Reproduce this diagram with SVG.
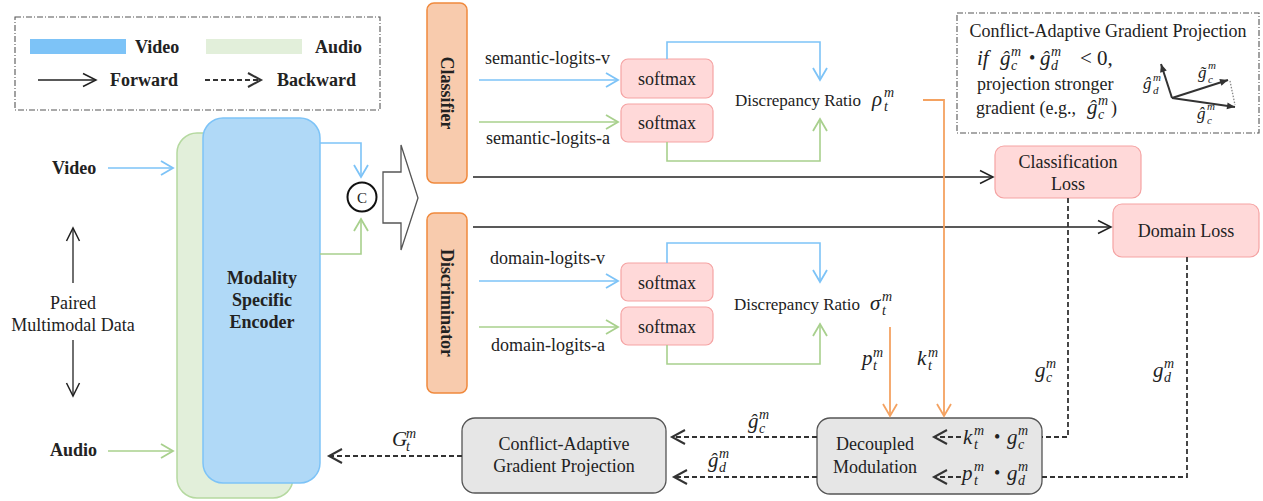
<svg xmlns="http://www.w3.org/2000/svg" width="1263" height="501" viewBox="0 0 1263 501" font-family="Liberation Serif, Times New Roman, serif">
  <style>
    text { fill: #222; }
    .t18 { font-size: 18px; }
    .t17 { font-size: 17px; }
    .b { font-weight: bold; }
    .mid { text-anchor: middle; }
    .base { font-size: 21px; font-style: italic; }
    .scr { font-size: 14px; font-style: italic; }
    .sbase { font-size: 17px; font-style: italic; }
    .sscr { font-size: 11px; font-style: italic; }
    .blue { stroke: #7DC3F7; stroke-width: 1.6; fill: none; }
    .green { stroke: #A8D08D; stroke-width: 1.6; fill: none; }
    .orange { stroke: #F4A261; stroke-width: 1.8; fill: none; }
    .fwd { stroke: #222; stroke-width: 1.3; fill: none; }
    .bwd { stroke: #333; stroke-width: 1.8; fill: none; stroke-dasharray: 5 3; }
    .pink { fill: #FFD9D9; stroke: #F5A3A3; stroke-width: 1.2; }
    .gray { fill: #E6E6E6; stroke: #555; stroke-width: 1.3; }
    .orbox { fill: #F8CBAD; stroke: #F0893C; stroke-width: 1.5; }
    .frame { fill: none; stroke: #555; stroke-width: 1.1; stroke-dasharray: 6 2 1 2; }
    .vec { stroke: #333; stroke-width: 2; fill: none; }
  </style>
  <defs>
    <marker id="a-blue" viewBox="-15 -9 18 18" markerWidth="18" markerHeight="18" refX="0" refY="0" orient="auto" markerUnits="userSpaceOnUse" overflow="visible">
      <path d="M-12,-7 L0,0 L-12,7" fill="none" stroke="#7DC3F7" stroke-width="1.8"/>
    </marker>
    <marker id="a-green" viewBox="-15 -9 18 18" markerWidth="18" markerHeight="18" refX="0" refY="0" orient="auto" markerUnits="userSpaceOnUse" overflow="visible">
      <path d="M-12,-7 L0,0 L-12,7" fill="none" stroke="#A8D08D" stroke-width="1.8"/>
    </marker>
    <marker id="a-orange" viewBox="-15 -9 18 18" markerWidth="18" markerHeight="18" refX="0" refY="0" orient="auto" markerUnits="userSpaceOnUse" overflow="visible">
      <path d="M-12,-7 L0,0 L-12,7" fill="none" stroke="#F4A261" stroke-width="1.8"/>
    </marker>
    <marker id="a-black" viewBox="-15 -9 18 18" markerWidth="18" markerHeight="18" refX="0" refY="0" orient="auto" markerUnits="userSpaceOnUse" overflow="visible">
      <path d="M-13,-6.5 L0,0 L-13,6.5" fill="none" stroke="#222" stroke-width="1.5"/>
    </marker>
    <marker id="a-dash" viewBox="-15 -9 18 18" markerWidth="18" markerHeight="18" refX="0" refY="0" orient="auto" markerUnits="userSpaceOnUse" overflow="visible">
      <path d="M-13,-7 L0,0 L-13,7" fill="none" stroke="#333" stroke-width="2"/>
    </marker>
    <marker id="a-vec" viewBox="-10 -5 12 10" markerWidth="12" markerHeight="10" refX="0" refY="0" orient="auto" markerUnits="userSpaceOnUse" overflow="visible">
      <path d="M-8,-3.5 L0,0 L-8,3.5 Z" fill="#333"/>
    </marker>
  </defs>

  <!-- legend -->
  <g id="legend">
    <rect class="frame" x="15" y="17" width="365" height="93"/>
    <rect x="30" y="39" width="96" height="15" fill="#7DC3F7"/>
    <text class="t18 b" x="135" y="53">Video</text>
    <rect x="206" y="39" width="96" height="15" fill="#E2EFDA"/>
    <text class="t18 b" x="315" y="53">Audio</text>
    <line class="fwd" x1="38" y1="80" x2="96" y2="80" marker-end="url(#a-black)"/>
    <text class="t18 b" x="110" y="86">Forward</text>
    <line class="bwd" x1="205" y1="80" x2="261" y2="80" marker-end="url(#a-dash)"/>
    <text class="t18 b" x="277" y="86">Backward</text>
  </g>

  <!-- inputs -->
  <g id="inputs">
    <text class="t18 b" x="52" y="174">Video</text>
    <text class="t18 b" x="50" y="456">Audio</text>
    <text class="t18 mid" x="73" y="309">Paired</text>
    <text class="t18 mid" x="73" y="331">Multimodal Data</text>
    <line class="fwd" x1="73" y1="283" x2="73" y2="228" marker-end="url(#a-black)"/>
    <line class="fwd" x1="73" y1="340" x2="73" y2="396" marker-end="url(#a-black)"/>
  </g>

  <!-- encoder (audio branch behind, video branch in front) -->
  <g id="encoder">
    <rect x="177" y="133" width="116" height="365" rx="20" fill="#E2EFDA" stroke="#B5D9A0" stroke-width="1.5"/>
    <rect x="203" y="118" width="117" height="365" rx="20" fill="#B0D9F7" stroke="#7DC3F7" stroke-width="1.5"/>
    <text class="t18 b mid" x="262" y="284">Modality</text>
    <text class="t18 b mid" x="262" y="306">Specific</text>
    <text class="t18 b mid" x="262" y="328">Encoder</text>
  </g>

  <g id="concat">
    <circle cx="362" cy="197" r="14.5" fill="#fff" stroke="#111" stroke-width="2"/>
    <text class="mid" x="362" y="202.5" font-size="15">C</text>
  </g>

  <g id="split-arrow">
    <polygon points="383,172 401,172 401,145 418,198 401,250 401,223 383,223" fill="#fff" stroke="#555" stroke-width="1.3"/>
  </g>

  <g id="classifier">
    <rect class="orbox" x="427" y="3" width="40" height="180" rx="7"/>
    <text class="t18 b mid" transform="translate(447 93) rotate(90)" y="6">Classifier</text>
  </g>
  <g id="discriminator">
    <rect class="orbox" x="427" y="213" width="40" height="180" rx="7"/>
    <text class="t18 b mid" transform="translate(447 303) rotate(90)" y="6">Discriminator</text>
  </g>

  <g id="softmax-sv"><rect class="pink" x="621" y="59" width="92" height="39" rx="7"/><text class="t18 mid" x="667" y="85">softmax</text></g>
  <g id="softmax-sa"><rect class="pink" x="621" y="104" width="92" height="38" rx="7"/><text class="t18 mid" x="667" y="129">softmax</text></g>
  <g id="softmax-dv"><rect class="pink" x="621" y="263" width="92" height="38" rx="7"/><text class="t18 mid" x="667" y="289">softmax</text></g>
  <g id="softmax-da"><rect class="pink" x="621" y="307" width="92" height="38" rx="7"/><text class="t18 mid" x="667" y="333">softmax</text></g>

  <g id="ratio-rho">
    <text class="t17" x="735" y="106">Discrepancy Ratio</text>
    <text class="base" x="872" y="106">ρ</text>
    <text class="scr" x="884" y="97">m</text>
    <text class="scr" x="884" y="111">t</text>
  </g>
  <g id="ratio-sigma">
    <text class="t17" x="734" y="310">Discrepancy Ratio</text>
    <text class="base" x="870" y="310">σ</text>
    <text class="scr" x="882" y="301">m</text>
    <text class="scr" x="882" y="315">t</text>
  </g>

  <g id="cls-loss">
    <rect class="pink" x="995" y="146" width="146" height="52" rx="9"/>
    <text class="t18 mid" x="1068" y="168">Classification</text>
    <text class="t18 mid" x="1068" y="190">Loss</text>
  </g>
  <g id="dom-loss">
    <rect class="pink" x="1113" y="204" width="146" height="53" rx="9"/>
    <text class="t18 mid" x="1186" y="237">Domain Loss</text>
  </g>

  <g id="decoupled">
    <rect class="gray" x="817" y="418" width="225" height="76" rx="13"/>
    <text class="t18 mid" x="875" y="450">Decoupled</text>
    <text class="t18 mid" x="875" y="473">Modulation</text>
    <line class="bwd" x1="961" y1="437" x2="934" y2="437" stroke-dasharray="4 2.5" marker-end="url(#a-dash)"/>
    <text class="base" x="963" y="444">k</text>
    <text class="scr" x="974" y="435">m</text>
    <text class="scr" x="974" y="449">t</text>
    <text x="994" y="443" font-size="18">•</text>
    <text class="base" x="1007" y="444">g</text>
    <text class="scr" x="1018" y="435">m</text>
    <text class="scr" x="1018" y="449">c</text>
    <line class="bwd" x1="961" y1="477" x2="934" y2="477" stroke-dasharray="4 2.5" marker-end="url(#a-dash)"/>
    <text class="base" x="962" y="480">p</text>
    <text class="scr" x="974" y="471">m</text>
    <text class="scr" x="974" y="485">t</text>
    <text x="994" y="479" font-size="18">•</text>
    <text class="base" x="1007" y="480">g</text>
    <text class="scr" x="1018" y="471">m</text>
    <text class="scr" x="1018" y="485">d</text>
  </g>

  <g id="cagp">
    <rect class="gray" x="462" y="418" width="204" height="75" rx="13"/>
    <text class="t18 mid" x="564" y="450">Conflict-Adaptive</text>
    <text class="t18 mid" x="564" y="472">Gradient Projection</text>
  </g>

  <!-- inset explaining the projection rule -->
  <g id="cagp-note">
    <rect class="frame" x="957" y="13" width="302" height="120"/>
    <text class="t18 mid" x="1108" y="37">Conflict-Adaptive Gradient Projection</text>
    <text class="base" x="977" y="65">if</text>
    <text class="base" x="1000" y="65">ĝ</text>
    <text class="scr" x="1011" y="56">m</text>
    <text class="scr" x="1011" y="70">c</text>
    <text x="1029" y="64" font-size="18">•</text>
    <text class="base" x="1040" y="65">ĝ</text>
    <text class="scr" x="1051" y="56">m</text>
    <text class="scr" x="1051" y="70">d</text>
    <text x="1080" y="65" font-size="21">&lt; 0,</text>
    <text class="t18" x="977" y="90">projection stronger</text>
    <text class="t18" x="976" y="114">gradient (e.g.,</text>
    <text class="base" x="1087" y="114">ĝ</text>
    <text class="scr" x="1098" y="105">m</text>
    <text class="scr" x="1098" y="119">c</text>
    <text class="t18" x="1111" y="114">)</text>
    <line class="vec" x1="1172" y1="98" x2="1161" y2="64" marker-end="url(#a-vec)"/>
    <line class="vec" x1="1172" y1="98" x2="1228" y2="80" marker-end="url(#a-vec)"/>
    <line class="vec" x1="1172" y1="98" x2="1235" y2="107" marker-end="url(#a-vec)"/>
    <line x1="1230" y1="81" x2="1235" y2="105" stroke="#888" stroke-width="1.3" stroke-dasharray="1.5 1.5"/>
    <text class="sbase" x="1143" y="89">ĝ</text>
    <text class="sscr" x="1153" y="81">m</text>
    <text class="sscr" x="1153" y="94">d</text>
    <text class="sbase" x="1198" y="78">g̃</text>
    <text class="sscr" x="1208" y="69">m</text>
    <text class="sscr" x="1208" y="83">c</text>
    <text class="sbase" x="1197" y="119">ĝ</text>
    <text class="sscr" x="1207" y="110">m</text>
    <text class="sscr" x="1207" y="124">c</text>
  </g>

  <g id="connectors">
    <!-- inputs into the encoder -->
    <line class="blue" x1="108" y1="168" x2="173" y2="168" marker-end="url(#a-blue)"/>
    <line class="green" x1="108" y1="451" x2="173" y2="451" marker-end="url(#a-green)"/>
    <!-- encoder features to concat -->
    <polyline class="blue" points="320,143 361,143 361,177" marker-end="url(#a-blue)"/>
    <polyline class="green" points="320,254 361,254 361,219" marker-end="url(#a-green)"/>
    <!-- logits into softmax -->
    <line class="blue" x1="479" y1="80" x2="618" y2="80" marker-end="url(#a-blue)"/>
    <line class="green" x1="479" y1="122" x2="618" y2="122" marker-end="url(#a-green)"/>
    <line class="blue" x1="479" y1="281" x2="618" y2="281" marker-end="url(#a-blue)"/>
    <line class="green" x1="479" y1="327" x2="618" y2="327" marker-end="url(#a-green)"/>
    <text class="t18" x="485" y="64">semantic-logits-v</text>
    <text class="t18" x="486" y="144">semantic-logits-a</text>
    <text class="t18" x="490" y="264">domain-logits-v</text>
    <text class="t18" x="491" y="351">domain-logits-a</text>
    <!-- softmax outputs into the ratios -->
    <polyline class="blue" points="667,59 667,42 820,42 820,80" marker-end="url(#a-blue)"/>
    <polyline class="green" points="667,142 667,161 820,161 820,119" marker-end="url(#a-green)"/>
    <polyline class="blue" points="667,263 667,243 820,243 820,282" marker-end="url(#a-blue)"/>
    <polyline class="green" points="667,345 667,364 820,364 820,324" marker-end="url(#a-green)"/>
    <!-- heads to losses -->
    <line class="fwd" x1="473" y1="177" x2="993" y2="177" marker-end="url(#a-black)"/>
    <line class="fwd" x1="473" y1="227" x2="1111" y2="227" marker-end="url(#a-black)"/>
    <!-- modulation coefficients -->
    <polyline class="orange" points="923,100 944,100 944,416" marker-end="url(#a-orange)"/>
    <line class="orange" x1="890" y1="327" x2="890" y2="416" marker-end="url(#a-orange)"/>
    <text class="base" x="862" y="365">p</text>
    <text class="scr" x="873" y="357">m</text>
    <text class="scr" x="873" y="370">t</text>
    <text class="base" x="917" y="365">k</text>
    <text class="scr" x="928" y="357">m</text>
    <text class="scr" x="928" y="370">t</text>
    <!-- loss gradients back to modulation -->
    <polyline class="bwd" points="1068,198 1068,437 1042,437"/>
    <polyline class="bwd" points="1187,257 1187,477 1042,477"/>
    <text class="base" x="1035" y="377">g</text>
    <text class="scr" x="1046" y="368">m</text>
    <text class="scr" x="1046" y="382">c</text>
    <text class="base" x="1153" y="377">g</text>
    <text class="scr" x="1164" y="368">m</text>
    <text class="scr" x="1164" y="382">d</text>
    <!-- modulated gradients to projection -->
    <line class="bwd" x1="817" y1="437" x2="672" y2="437" marker-end="url(#a-dash)"/>
    <line class="bwd" x1="817" y1="477" x2="674" y2="477" marker-end="url(#a-dash)"/>
    <text class="base" x="748" y="428">ĝ</text>
    <text class="scr" x="759" y="419">m</text>
    <text class="scr" x="759" y="433">c</text>
    <text class="base" x="708" y="467">ĝ</text>
    <text class="scr" x="719" y="458">m</text>
    <text class="scr" x="719" y="472">d</text>
    <!-- final gradient back into the encoder -->
    <line class="bwd" x1="462" y1="456" x2="329" y2="456" marker-end="url(#a-dash)"/>
    <text class="base" x="392" y="446">G</text>
    <text class="scr" x="406" y="438">m</text>
    <text class="scr" x="406" y="451">t</text>
  </g>
</svg>
